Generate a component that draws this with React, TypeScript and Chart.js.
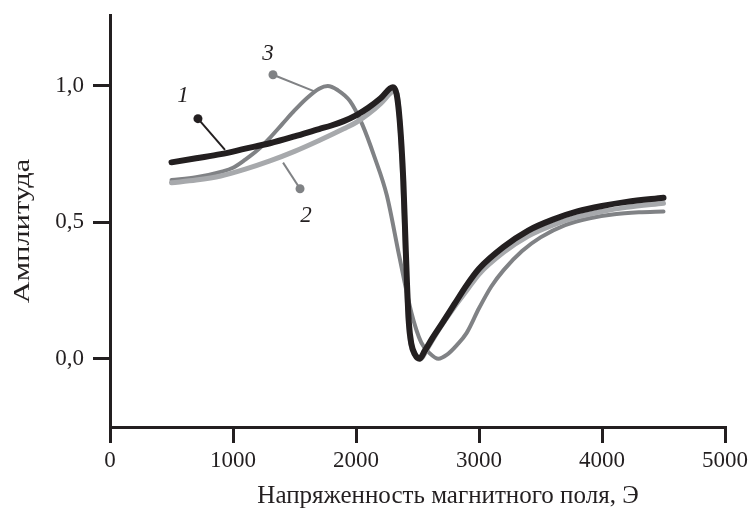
import React, { useEffect, useRef } from "react";
import { Chart, registerables } from "chart.js";

Chart.register(...registerables);

// Field strength (Oe) and amplitude for the three curves
const field1 = [500, 700, 900, 1100, 1300, 1500, 1700, 1800, 1900, 2000, 2100, 2200, 2300, 2330, 2350, 2370, 2385, 2400, 2415, 2430, 2450, 2480, 2515, 2560, 2620, 2700, 2800, 2900, 3000, 3200, 3400, 3600, 3800, 4000, 4200, 4500];
const amp1 = [0.72, 0.735, 0.75, 0.77, 0.79, 0.815, 0.842, 0.855, 0.871, 0.892, 0.92, 0.955, 0.995, 0.97, 0.9, 0.78, 0.65, 0.46, 0.27, 0.13, 0.055, 0.015, 0.0, 0.03, 0.075, 0.13, 0.2, 0.27, 0.33, 0.41, 0.47, 0.51, 0.54, 0.56, 0.575, 0.59];

const field2 = [500, 700, 900, 1100, 1300, 1500, 1700, 1900, 2000, 2100, 2200, 2290, 2320, 2345, 2365, 2380, 2395, 2410, 2425, 2440, 2460, 2490, 2525, 2570, 2630, 2700, 2800, 2900, 3000, 3200, 3400, 3600, 3800, 4000, 4200, 4500];
const amp2 = [0.645, 0.655, 0.67, 0.695, 0.725, 0.76, 0.8, 0.843, 0.866, 0.897, 0.935, 0.978, 0.985, 0.93, 0.8, 0.66, 0.48, 0.29, 0.15, 0.07, 0.03, 0.01, 0.0, 0.03, 0.075, 0.125, 0.19, 0.25, 0.31, 0.39, 0.45, 0.49, 0.52, 0.54, 0.555, 0.57];

const field3 = [500, 700, 900, 1000, 1100, 1200, 1300, 1400, 1500, 1600, 1700, 1770, 1850, 1950, 2050, 2150, 2250, 2350, 2450, 2530, 2600, 2670, 2740, 2820, 2900, 3000, 3100, 3200, 3350, 3500, 3700, 3900, 4100, 4300, 4500];
const amp3 = [0.655, 0.665, 0.685, 0.7, 0.73, 0.765, 0.81, 0.86, 0.91, 0.955, 0.99, 1.0, 0.985, 0.945, 0.86, 0.74, 0.6, 0.38, 0.17, 0.06, 0.02, 0.0, 0.015, 0.05, 0.095, 0.185, 0.265, 0.325, 0.395, 0.445, 0.49, 0.515, 0.53, 0.537, 0.54];

const xTicks = [0, 1000, 2000, 3000, 4000, 5000];
const yTicks = [0, 0.5, 1.0];

const xTitle = "Напряженность магнитного поля, Э";
const yTitle = "Амплитуда";

// Curve labels with leader lines (data coordinates)
const labelText = ["1", "2", "3"];
const labelAt = [[593, 0.964], [1593, 0.525], [1285, 1.118]];
const dotAt = [[715, 0.88], [1545, 0.623], [1325, 1.041]];
const leaderEnd = [[935, 0.766], [1407, 0.719], [1667, 0.979]];

const colors = ["#231f20", "#a7a9ac", "#808285"];
const ink = "#231f20";
const serif = "'Liberation Serif', 'Times New Roman', serif";

const toPoints = (xs: number[], ys: number[]) => xs.map((x, i) => ({ x, y: ys[i] }));

const labelPlugin = {
  id: "curveLabels",
  afterDatasetsDraw(chart: any) {
    const { ctx, scales } = chart;
    const xs = scales.x;
    const ys = scales.y;
    ctx.save();
    for (let i = 0; i < labelText.length; i++) {
      const dx = xs.getPixelForValue(dotAt[i][0]);
      const dy = ys.getPixelForValue(dotAt[i][1]);
      const ex = xs.getPixelForValue(leaderEnd[i][0]);
      const ey = ys.getPixelForValue(leaderEnd[i][1]);
      const col = i === 0 ? colors[0] : colors[2];
      ctx.strokeStyle = col;
      ctx.fillStyle = col;
      ctx.lineWidth = 2;
      ctx.beginPath();
      ctx.moveTo(dx, dy);
      ctx.lineTo(ex, ey);
      ctx.stroke();
      ctx.beginPath();
      ctx.arc(dx, dy, 4.5, 0, Math.PI * 2);
      ctx.fill();
      ctx.fillStyle = ink;
      ctx.font = `italic 23px ${serif}`;
      ctx.textAlign = "center";
      ctx.textBaseline = "middle";
      ctx.fillText(labelText[i], xs.getPixelForValue(labelAt[i][0]), ys.getPixelForValue(labelAt[i][1]));
    }
    ctx.restore();
  },
  afterDraw(chart: any) {
    const { ctx } = chart;
    ctx.save();
    ctx.fillStyle = ink;
    ctx.font = `25px ${serif}`;
    ctx.textAlign = "center";
    ctx.textBaseline = "alphabetic";
    ctx.fillText(xTitle, 448, 503);
    ctx.translate(23, 231);
    ctx.rotate(-Math.PI / 2);
    ctx.scale(1.27, 1);
    ctx.font = `24px ${serif}`;
    ctx.textBaseline = "middle";
    ctx.fillText(yTitle, 0, 0);
    ctx.restore();
  },
};

export default function App() {
  const ref = useRef<HTMLCanvasElement>(null);
  useEffect(() => {
    if (!ref.current) return;
    const gridOpts = (len: number) => ({
      display: true,
      drawOnChartArea: false,
      drawTicks: true,
      tickLength: len,
      color: ink,
      lineWidth: 3,
    });
    const noOverflow = (s: any) => {
      s.paddingTop = 0;
      s.paddingBottom = 0;
      s.paddingLeft = 0;
      s.paddingRight = 0;
    };
    const chart = new Chart(ref.current, {
      type: "line",
      data: {
        datasets: [
          { label: "1", data: toPoints(field1, amp1), borderColor: colors[0], borderWidth: 6, pointRadius: 0, cubicInterpolationMode: "monotone", borderCapStyle: "round", borderJoinStyle: "round" },
          { label: "2", data: toPoints(field2, amp2), borderColor: colors[1], borderWidth: 5, pointRadius: 0, cubicInterpolationMode: "monotone", borderCapStyle: "round", borderJoinStyle: "round" },
          { label: "3", data: toPoints(field3, amp3), borderColor: colors[2], borderWidth: 4, pointRadius: 0, cubicInterpolationMode: "monotone", borderCapStyle: "round", borderJoinStyle: "round" },
        ],
      },
      options: {
        responsive: false,
        animation: false,
        parsing: false,
        layout: { padding: { left: 0, top: 15, right: 26, bottom: 0 }, autoPadding: false },
        plugins: { legend: { display: false }, tooltip: { enabled: false } },
        scales: {
          x: {
            type: "linear",
            min: 0,
            max: 5000,
            afterBuildTicks: (s: any) => { s.ticks = xTicks.map((v) => ({ value: v })); },
            afterFit: (s: any) => { s.height = 82; noOverflow(s); },
            ticks: { color: ink, font: { family: serif, size: 23 }, padding: 4, maxRotation: 0, callback: (v: any) => String(v) },
            grid: gridOpts(16),
            border: { display: true, color: ink, width: 3 },
            title: { display: false },
          },
          y: {
            type: "linear",
            min: -0.25,
            max: 1.26,
            afterBuildTicks: (s: any) => { s.ticks = yTicks.map((v) => ({ value: v })); },
            afterFit: (s: any) => { s.width = 110; noOverflow(s); },
            ticks: { color: ink, font: { family: serif, size: 23 }, padding: 9, callback: (v: any) => Number(v).toFixed(1).replace(".", ",") },
            grid: gridOpts(17),
            border: { display: true, color: ink, width: 3 },
            title: { display: false },
          },
        },
      } as any,
      plugins: [labelPlugin],
    });
    return () => chart.destroy();
  }, []);
  return (
    <div style={{ position: "absolute", left: 0, top: 0, width: 751, height: 509, background: "#fff" }}>
      <canvas ref={ref} width={751} height={509} />
    </div>
  );
}
